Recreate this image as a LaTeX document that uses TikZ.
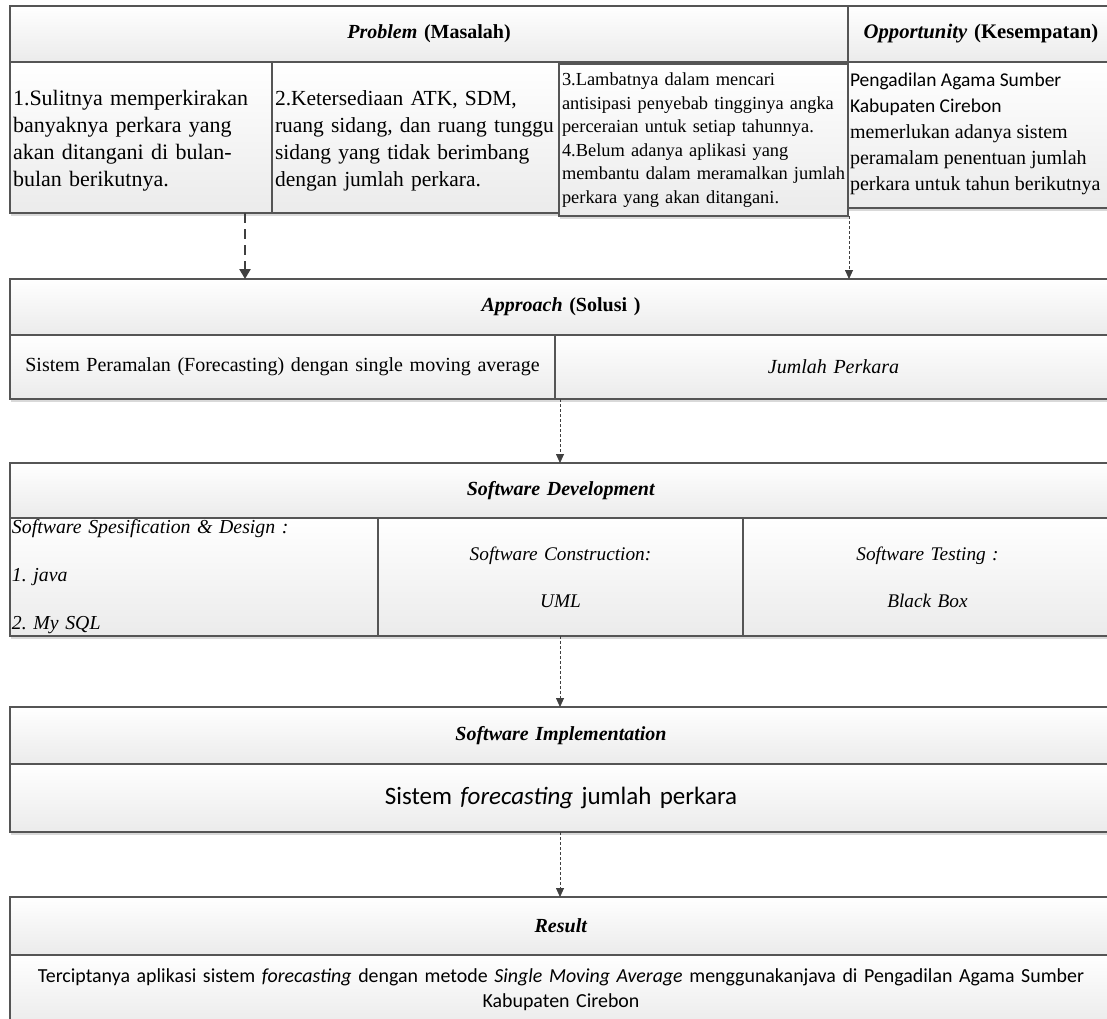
\documentclass[tikz,border=0pt]{standalone}
\usepackage{fontspec}
\setmainfont{Liberation Serif}
\newfontfamily\calib{Carlito}
\usetikzlibrary{arrows.meta,shadows}
\definecolor{edge}{HTML}{555555}
\definecolor{shadegray}{HTML}{EBEBEB}
\definecolor{arrowc}{HTML}{404040}
\newcommand{\oneline}[1]{\mbox{#1}}
\tikzset{
  box/.style={draw=edge, line width=1.1pt, top color=white, bottom color=shadegray,
    anchor=north west, inner xsep=3pt, inner ysep=0pt, outer sep=0pt,
    font=\fontsize{20}{25}\selectfont,
    drop shadow={shadow xshift=1pt, shadow yshift=-3pt, fill=black, opacity=0.15}},
  txt/.style={anchor=north west, inner sep=0pt, outer sep=0pt, align=left},
  conn/.style={draw=arrowc, line width=0.8pt, dash pattern=on 3pt off 2pt,
    -{Triangle[length=9pt,width=8pt]}},
  thickconn/.style={conn, line width=2.4pt, dash pattern=on 10pt off 6pt,
    -{Triangle[length=10pt,width=11pt]}},
}
\begin{document}
\begin{tikzpicture}[x=1pt,y=-1pt]
\useasboundingbox (0,0) rectangle (1107,1018);
\clip (0,0) rectangle (1107,1018);
\fill[white] (0,0) rectangle (1107,1018);

% Problem / Opportunity
\node[box, minimum width=838pt, minimum height=56pt, text width=832pt, align=center] (probHead) at (10,6)
  {\textbf{\textit{Problem} (Masalah)}};
\node[box, minimum width=266pt, minimum height=56pt, text width=260pt, align=center,
  font=\fontsize{20.7}{25}\selectfont] (oppHead) at (848,6)
  {\oneline{\textbf{\textit{Opportunity} (Kesempatan)}}};

\node[box, minimum width=262pt, minimum height=151pt, text width=256pt, align=left,
  font=\fontsize{22}{27}\selectfont] (c1) at (10,62)
  {\rule{0pt}{22pt}\oneline{1.Sulitnya memperkirakan}\\\oneline{banyaknya perkara yang}\\\oneline{akan ditangani di bulan-}\\\oneline{bulan berikutnya.}};
\node[box, minimum width=287pt, minimum height=151pt, text width=281pt, align=left,
  font=\fontsize{21.5}{27}\selectfont] (c2) at (272,62)
  {\rule{0pt}{22pt}\oneline{2.Ketersediaan ATK, SDM,}\\\oneline{ruang sidang, dan ruang tunggu}\\\oneline{sidang yang tidak berimbang}\\\oneline{dengan jumlah perkara.}};
\node[box, minimum width=289pt, minimum height=152pt, text width=283pt, align=left,
  font=\fontsize{18.4}{23.5}\selectfont] (c3) at (559,64)
  {\oneline{3.Lambatnya dalam mencari}\\\oneline{antisipasi penyebab tingginya angka}\\\oneline{perceraian untuk setiap tahunnya.}\\\oneline{4.Belum adanya aplikasi yang}\\\oneline{membantu dalam meramalkan jumlah}\\\oneline{perkara yang akan ditangani.}};
\node[box, minimum width=266pt, minimum height=146pt] (opp) at (848,62) {};
\node[txt, font=\fontsize{20}{26}\selectfont] (oppText) at ([xshift=2pt,yshift=-11pt]opp.north west)
  {\oneline{\calib\fontsize{19.5}{26}\selectfont Pengadilan Agama Sumber}\\\oneline{\calib\fontsize{19.5}{26}\selectfont Kabupaten Cirebon}\\\oneline{memerlukan adanya sistem}\\\oneline{peramalam penentuan jumlah}\\\oneline{perkara untuk tahun berikutnya}};

% Approach
\node[box, minimum width=1102pt, minimum height=56pt, text width=1096pt, align=center] (apHead) at (10,279)
  {\textbf{\textit{Approach} (Solusi )}};
\node[box, minimum width=545pt, minimum height=64pt, text width=539pt, align=center] (ap1) at (10,335)
  {\oneline{Sistem Peramalan (Forecasting) dengan single moving average}};
\node[box, minimum width=557pt, minimum height=64pt, text width=551pt, align=center] (ap2) at (555,335)
  {\textit{Jumlah Perkara}};

% Software Development
\node[box, minimum width=1102pt, minimum height=55pt, text width=1096pt, align=center] (sdHead) at (10,463)
  {\textbf{\textit{Software Development}}};
\node[box, minimum width=368pt, minimum height=118pt, text width=364pt, inner xsep=2pt, align=left,
  font=\fontsize{19.8}{48}\selectfont\itshape] (sd1) at (10,518)
  {\rule{0pt}{10pt}Software Spesification \& Design :\\1.\ java\\2.\ My SQL};
\node[box, minimum width=365pt, minimum height=118pt, text width=359pt, align=center,
  font=\fontsize{19.3}{47}\selectfont\itshape] (sd2) at (378,518)
  {Software Construction:\\UML};
\node[box, minimum width=369pt, minimum height=118pt, text width=363pt, align=center,
  font=\fontsize{19.3}{47}\selectfont\itshape] (sd3) at (743,518)
  {Software Testing :\\Black Box};

% Software Implementation
\node[box, minimum width=1102pt, minimum height=57pt, text width=1096pt, align=center] (siHead) at (10,707)
  {\textbf{\textit{Software Implementation}}};
\node[box, minimum width=1102pt, minimum height=68pt, text width=1096pt, align=center,
  font=\calib\fontsize{25}{30}\selectfont] (siBody) at (10,764)
  {Sistem \textit{forecasting} jumlah perkara};

% Result
\node[box, minimum width=1102pt, minimum height=58pt, text width=1096pt, align=center] (rsHead) at (10,897)
  {\textbf{\textit{Result}}};
\node[box, minimum width=1102pt, minimum height=70pt, text width=1096pt, align=center,
  font=\calib\fontsize{19.9}{25}\selectfont] (rsBody) at (10,955)
  {\oneline{Terciptanya aplikasi sistem \textit{forecasting} dengan metode \textit{Single Moving Average} menggunakanjava di Pengadilan Agama Sumber}\\Kabupaten Cirebon};

% connectors
\coordinate (xa) at (245,0);
\coordinate (xb) at (849,0);
\coordinate (xc) at (560,0);
\draw[thickconn] (c1.south -| xa) -- (apHead.north -| xa);
\draw[conn] (c3.south -| xb) -- (apHead.north -| xb);
\draw[conn] (ap1.south -| xc) -- (sdHead.north -| xc);
\draw[conn] (sd2.south -| xc) -- (siHead.north -| xc);
\draw[conn] (siBody.south -| xc) -- (rsHead.north -| xc);
\end{tikzpicture}
\end{document}
